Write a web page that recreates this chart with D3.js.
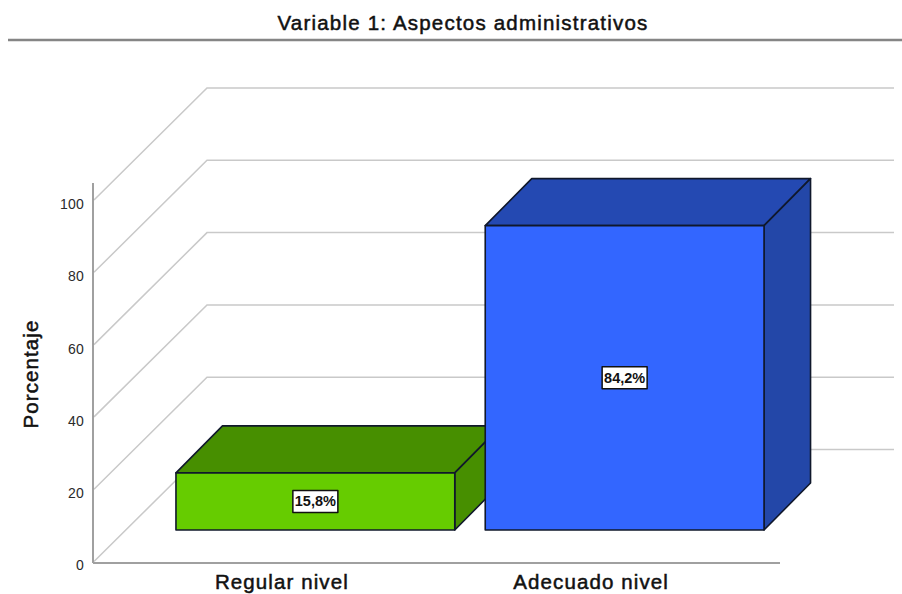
<!DOCTYPE html>
<html>
<head>
<meta charset="utf-8">
<script src="https://cdn.jsdelivr.net/npm/d3@7"></script>
<style>
  html, body { margin: 0; padding: 0; background: #fff; overflow: hidden; }
  text { font-family: "Liberation Sans", Arial, sans-serif; fill: #111; }
  .heavy { font-size: 20.5px; stroke: #111; stroke-width: 0.5px; letter-spacing: 1.1px; }
</style>
</head>
<body>
<div id="chart"></div>
<script>
const chartTitle = "Variable 1: Aspectos administrativos";
const yLabel = "Porcentaje";
const categories = ["Regular nivel", "Adecuado nivel"];
const percentages = [15.8, 84.2];
const percentLabels = ["15,8%", "84,2%"];
const frontColors = ["#66cc00", "#3366ff"];
const topColors = ["#478f00", "#2449b2"];
const sideColors = ["#478f00", "#2347a8"];
const yTicks = [0, 20, 40, 60, 80, 100];

const W = 902, H = 594;
const svg = d3.select("#chart").append("svg")
    .attr("width", W)
    .attr("height", H)
    .attr("viewBox", `0 0 ${W} ${H}`);

// Scales
const y = d3.scaleLinear().domain([0, 100]).range([561.5, 200]);
const x = d3.scaleBand()
    .domain(categories)
    .range([127, 746])
    .paddingInner(0.0985)
    .paddingOuter(0.05);

// fake 3d offsets
const axisX = 93, axisBottom = 563, axisTop = 183, axisRight = 780;
const wallDx = 113, wallDy = 112, wallRight = 894;
const barShiftX = 33.5, barShiftY = 31.5;
const barDx = 46.5, barDy = 47;

// Title and rule under it
svg.append("text")
    .attr("class", "heavy")
    .attr("x", 463)
    .attr("y", 30)
    .attr("text-anchor", "middle")
    .style("letter-spacing", "1.2px")
    .text(chartTitle);

svg.append("line")
    .attr("x1", 8).attr("x2", W)
    .attr("y1", 40).attr("y2", 40)
    .attr("stroke", "#858585")
    .attr("stroke-width", 2.4);

// Side wall + back wall gridlines
svg.append("g").selectAll("path")
    .data(yTicks)
    .enter()
    .append("path")
    .attr("fill", "none")
    .attr("stroke", "#c9c9c9")
    .attr("stroke-width", 1.5)
    .attr("d", d => d3.line()([
        [axisX + 1, y(d)],
        [axisX + wallDx + 1, y(d) - wallDy],
        [wallRight, y(d) - wallDy]
    ]));

// Axes
svg.append("line")
    .attr("x1", axisX).attr("x2", axisX)
    .attr("y1", axisTop).attr("y2", axisBottom)
    .attr("stroke", "#808080").attr("stroke-width", 1.5);

svg.append("line")
    .attr("x1", axisX).attr("x2", axisRight)
    .attr("y1", axisBottom).attr("y2", axisBottom)
    .attr("stroke", "#a0a0a0").attr("stroke-width", 1.8);

const yAxis = svg.append("g")
    .attr("transform", `translate(${axisX},0)`)
    .call(d3.axisLeft(y).tickValues(yTicks).tickSize(0).tickPadding(9));
yAxis.select(".domain").remove();
yAxis.selectAll("text")
    .attr("dy", "0.6em")
    .style("font-size", "14px")
    .style("letter-spacing", "0.2px")
    .style("fill", "#2a2a2a");

const xAxis = svg.append("g")
    .attr("transform", `translate(0,${axisBottom})`)
    .call(d3.axisBottom(x).tickSize(0).tickPadding(11));
xAxis.select(".domain").remove();
xAxis.selectAll("text")
    .attr("class", "heavy")
    .style("fill", "#111");

svg.append("text")
    .attr("class", "heavy")
    .attr("transform", "translate(38,374) rotate(-90)")
    .attr("text-anchor", "middle")
    .text(yLabel);

// Bars: front, top and side faces
const bars = svg.append("g").selectAll("g")
    .data(categories)
    .enter()
    .append("g")
    .attr("stroke", "#10182b")
    .attr("stroke-width", 1.6)
    .attr("stroke-linejoin", "round");

bars.each(function (cat, i) {
    const g = d3.select(this);
    const x0 = x(cat) + barShiftX;
    const x1 = x0 + x.bandwidth();
    const yTop = y(percentages[i]) - barShiftY;
    const yBase = y(0) - barShiftY;

    g.append("path")
        .attr("fill", topColors[i])
        .attr("d", d3.line()([[x0, yTop], [x0 + barDx, yTop - barDy], [x1 + barDx, yTop - barDy], [x1, yTop]]) + "Z");

    g.append("path")
        .attr("fill", sideColors[i])
        .attr("d", d3.line()([[x1, yTop], [x1 + barDx, yTop - barDy], [x1 + barDx, yBase - barDy], [x1, yBase]]) + "Z");

    g.append("rect")
        .attr("x", x0)
        .attr("y", yTop)
        .attr("width", x1 - x0)
        .attr("height", yBase - yTop)
        .attr("fill", frontColors[i]);

    // Value label box
    const cx = (x0 + x1) / 2;
    const cy = (yTop + yBase) / 2;
    g.append("rect")
        .attr("x", cx - 22.5)
        .attr("y", cy - 11)
        .attr("width", 45)
        .attr("height", 22)
        .attr("fill", "#fff")
        .attr("stroke", "#111")
        .attr("stroke-width", 1.5);
    g.append("text")
        .attr("x", cx)
        .attr("y", cy + 5)
        .attr("text-anchor", "middle")
        .attr("stroke", "none")
        .style("font-size", "14.5px")
        .style("font-weight", "bold")
        .text(percentLabels[i]);
});
</script>
</body>
</html>
